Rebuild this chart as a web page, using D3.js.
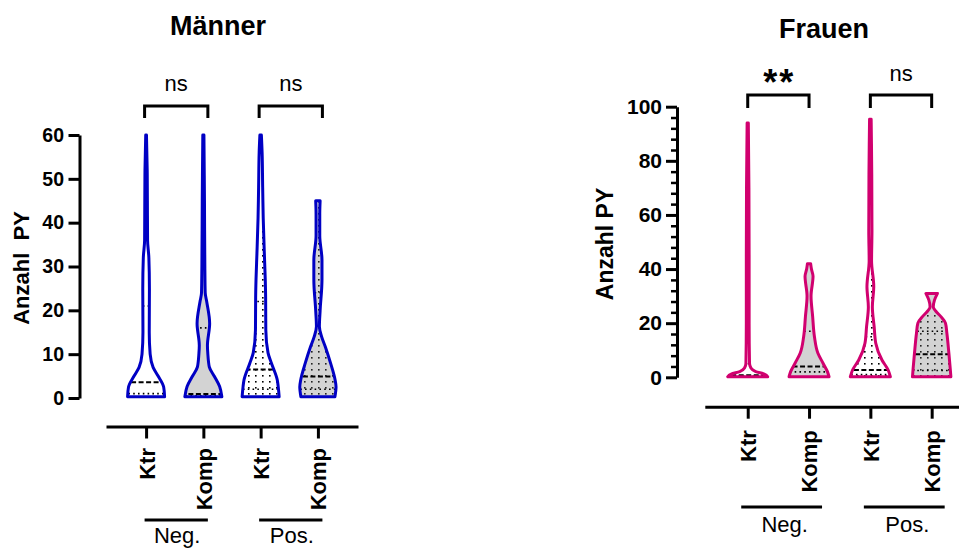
<!DOCTYPE html>
<html>
<head>
<meta charset="utf-8">
<script src="https://cdn.jsdelivr.net/npm/d3@7"></script>
<style>
  body { margin: 0; background: #fff; }
  svg { display: block; font-family: "Liberation Sans", Arial, sans-serif; }
</style>
</head>
<body>
<svg width="959" height="549"></svg>
<script>
// categories and groups
const categories = ["Ktr", "Komp", "Ktr", "Komp"];
const groups = ["Neg.", "Pos."];

// violin outlines, [value, relative half width], bottom to top
const menKtrNeg = [[0.3, 1.0], [2.5, 0.95], [5, 0.65], [7, 0.38], [10, 0.22], [15, 0.17], [25, 0.18], [32, 0.15], [36, 0.08], [45, 0.07], [52, 0.06], [60, 0.02]];
const menKompNeg = [[0.3, 1.0], [2.6, 0.88], [4.9, 0.6], [7.1, 0.32], [10.2, 0.24], [12, 0.22], [17, 0.34], [22, 0.18], [24, 0.1], [30, 0.08], [45, 0.06], [60, 0.03]];
const menKtrPos = [[0.3, 1.0], [2.6, 0.95], [4.1, 0.9], [8, 0.58], [10.3, 0.4], [15.5, 0.28], [23, 0.27], [27, 0.25], [33, 0.2], [41, 0.14], [48, 0.11], [56, 0.08], [60, 0.04]];
const menKompPos = [[0.3, 0.92], [2.5, 0.98], [4.1, 0.93], [8, 0.68], [11.7, 0.4], [14, 0.2], [16.3, 0.08], [20, 0.12], [27, 0.22], [31.5, 0.22], [37, 0.1], [42, 0.1], [45, 0.12]];

const womenKtrNeg = [[0.2, 1.0], [1.2, 0.83], [2.1, 0.4], [3.4, 0.16], [5.2, 0.09], [20, 0.07], [45, 0.07], [70, 0.06], [94, 0.03]];
const womenKompNeg = [[0.2, 1.0], [2.1, 0.92], [5.2, 0.7], [9, 0.44], [15, 0.27], [22.5, 0.18], [30, 0.1], [37.3, 0.2], [40, 0.12], [42, 0.08]];
const womenKtrPos = [[0.2, 1.0], [2.7, 0.89], [6.4, 0.58], [12.6, 0.27], [18.7, 0.19], [26, 0.1], [33.5, 0.17], [43, 0.06], [54, 0.08], [75, 0.07], [95.4, 0.04]];
const womenKompPos = [[0.2, 0.96], [3, 0.93], [8.9, 0.86], [16.3, 0.76], [20, 0.69], [22.5, 0.45], [24.5, 0.2], [26, 0.08], [28.5, 0.14], [31, 0.29]];

// medians and quartiles
const menMedian = [3.6, 0.9, 6.5, 4.9];
const menQ1 = [1, 0.5, 2, 2];
const menQ3 = [21, 16, 22, 24];
const womenMedian = [0.8, 4, 2.7, 8.5];
const womenQ1 = [0.4, 2, 1, 2.5];
const womenQ3 = [5, 17, 15, 17];

// significance
const menSig = ["ns", "ns"];
const womenSig = ["**", "ns"];

// axis ticks
const menTicks = [0, 10, 20, 30, 40, 50, 60];
const womenTicks = [0, 20, 40, 60, 80, 100];
const womenMinor = [4, 8, 12, 16, 24, 28, 32, 36, 44, 48, 52, 56, 64, 68, 72, 76, 84, 88, 92, 96];

const svg = d3.select("svg");
const defs = svg.append("defs");

// dotted fills
const dots = defs.append("pattern")
  .attr("id", "dots").attr("patternUnits", "userSpaceOnUse")
  .attr("width", 7).attr("height", 6);
dots.append("rect").attr("width", 7).attr("height", 6).attr("fill", "#fff");
dots.append("rect").attr("x", 3).attr("y", 3).attr("width", 1.6).attr("height", 1.6).attr("fill", "#000");

const dotsGray = defs.append("pattern")
  .attr("id", "dotsGray").attr("patternUnits", "userSpaceOnUse")
  .attr("width", 7).attr("height", 6);
dotsGray.append("rect").attr("width", 7).attr("height", 6).attr("fill", "#d3d3d3");
dotsGray.append("rect").attr("x", 3).attr("y", 3).attr("width", 1.6).attr("height", 1.6).attr("fill", "#222");

const fills = ["#fff", "#d3d3d3", "url(#dots)", "url(#dotsGray)"];

const drawPanel = (p) => {
  const g = svg.append("g");

  const y = d3.scaleLinear().domain(p.yDomain).range(p.yRange);
  const x = d3.scalePoint().domain(d3.range(categories.length)).range(p.xRange).padding(0.7);
  const w = d3.scaleLinear().domain([0, 1]).range([0, p.halfWidth]);

  // title
  g.append("text")
    .attr("x", p.titleX).attr("y", p.titleY)
    .attr("text-anchor", "middle")
    .attr("font-size", 27).attr("font-weight", "bold")
    .text(p.title);

  // y axis
  const yAxis = g.append("g")
    .attr("transform", `translate(${p.axisX},0)`)
    .call(d3.axisLeft(y).tickValues(p.ticks).tickSize(11).tickSizeOuter(0).tickPadding(p.tickPad));
  yAxis.select(".domain").attr("stroke-width", 3);
  yAxis.selectAll(".tick line").attr("stroke-width", 3);
  yAxis.selectAll(".tick text")
    .attr("font-size", p.tickFont).attr("font-weight", "bold")
    .attr("font-family", "Liberation Sans, Arial, sans-serif").attr("fill", "#000");

  if (p.minor) {
    const minorAxis = g.append("g")
      .attr("transform", `translate(${p.axisX},0)`)
      .call(d3.axisLeft(y).tickValues(p.minor).tickSize(6).tickFormat(""));
    minorAxis.select(".domain").remove();
    minorAxis.selectAll(".tick line").attr("stroke-width", 2.5);
  }

  // y label
  g.append("text")
    .attr("transform", `translate(${p.yLabelX},${p.yLabelY}) rotate(-90)`)
    .attr("text-anchor", "middle")
    .attr("font-size", p.yLabelFont).attr("font-weight", "bold")
    .style("white-space", "pre")
    .text(p.yLabel);

  // x axis
  const xAxis = g.append("g")
    .attr("transform", `translate(0,${p.xAxisY})`)
    .call(d3.axisBottom(x).tickSize(12).tickSizeOuter(0).tickFormat(i => categories[i]));
  xAxis.select(".domain").attr("stroke-width", 3);
  xAxis.selectAll(".tick line").attr("stroke-width", 3);
  xAxis.selectAll(".tick text")
    .attr("transform", "rotate(-90)")
    .attr("x", -p.catOffset).attr("y", 0).attr("dy", "0.36em")
    .attr("text-anchor", "end")
    .attr("font-size", p.catFont).attr("font-weight", "bold")
    .attr("font-family", "Liberation Sans, Arial, sans-serif").attr("fill", "#000");

  // violins
  p.violins.forEach((shape, i) => {
    const cx = x(i);
    const area = d3.area()
      .curve(d3.curveMonotoneY)
      .y(d => y(d[0]))
      .x0(d => cx - w(d[1]))
      .x1(d => cx + w(d[1]));
    const dPath = area(shape);
    const clipId = `${p.id}-clip-${i}`;
    defs.append("clipPath").attr("id", clipId).append("path").attr("d", dPath);

    g.append("path").attr("d", dPath).attr("fill", fills[i]);

    const lines = g.append("g").attr("clip-path", `url(#${clipId})`);
    [p.q1[i], p.q3[i]].forEach(v => {
      lines.append("line")
        .attr("x1", cx - p.halfWidth - 4).attr("x2", cx + p.halfWidth + 4)
        .attr("y1", y(v)).attr("y2", y(v))
        .attr("stroke", "#000").attr("stroke-width", 1.6)
        .attr("stroke-dasharray", "1.6,3.2");
    });
    lines.append("line")
      .attr("x1", cx - p.halfWidth - 4).attr("x2", cx + p.halfWidth + 4)
      .attr("y1", y(p.median[i])).attr("y2", y(p.median[i]))
      .attr("stroke", "#000").attr("stroke-width", 2)
      .attr("stroke-dasharray", "5,2.5");

    g.append("path").attr("d", dPath)
      .attr("fill", "none").attr("stroke", p.color)
      .attr("stroke-width", 3).attr("stroke-linejoin", "round");
  });

  // significance brackets
  p.sig.forEach((s, j) => {
    const a = x(2 * j) + p.bracketOff[0];
    const b = x(2 * j + 1) + p.bracketOff[1];
    g.append("path")
      .attr("d", `M${a},${p.bracketTop + p.bracketLeg}V${p.bracketTop}H${b}V${p.bracketTop + p.bracketLeg}`)
      .attr("fill", "none").attr("stroke", "#000").attr("stroke-width", 3);
    const star = s.indexOf("*") >= 0;
    g.append("text")
      .attr("x", (a + b) / 2 + (star ? 1 : 0))
      .attr("y", star ? p.starY : p.sigY)
      .attr("text-anchor", "middle")
      .attr("font-size", star ? 36 : 22)
      .attr("font-weight", star ? "bold" : "normal")
      .attr("letter-spacing", star ? 2 : 0)
      .text(s);
  });

  // group lines and labels
  groups.forEach((name, j) => {
    const a = x(2 * j) + p.groupOff[0];
    const b = x(2 * j + 1) + p.groupOff[1];
    g.append("line")
      .attr("x1", a).attr("x2", b)
      .attr("y1", p.groupLineY).attr("y2", p.groupLineY)
      .attr("stroke", "#000").attr("stroke-width", 3);
    g.append("text")
      .attr("x", (a + b) / 2 + p.groupLabelShift).attr("y", p.groupLabelY)
      .attr("text-anchor", "middle")
      .attr("font-size", 22)
      .text(name);
  });
};

drawPanel({
  id: "men", title: "Männer", titleX: 218, titleY: 35,
  yDomain: [0, 60], yRange: [398, 135], ticks: menTicks, tickFont: 19.5, tickPad: 4.5,
  xRange: [106, 358], axisX: 79.5, xAxisY: 426.5, catOffset: 21.5, catFont: 22,
  yLabel: "Anzahl  PY", yLabelX: 29, yLabelY: 268, yLabelFont: 22,
  halfWidth: 18.5, color: "#0000c4",
  violins: [menKtrNeg, menKompNeg, menKtrPos, menKompPos],
  median: menMedian, q1: menQ1, q3: menQ3,
  sig: menSig, bracketTop: 106, bracketLeg: 12, bracketOff: [-1.5, 4.5], sigY: 90.5, starY: 95,
  groupLineY: 520, groupOff: [-1.5, 4.5], groupLabelY: 543, groupLabelShift: 1
});

drawPanel({
  id: "women", title: "Frauen", titleX: 824, titleY: 38,
  yDomain: [0, 100], yRange: [377.3, 106.7], ticks: womenTicks, minor: womenMinor, tickFont: 21, tickPad: 4,
  xRange: [704.8, 974.6], axisX: 677, xAxisY: 406.7, catOffset: 23.5, catFont: 22,
  yLabel: "Anzahl PY", yLabelX: 613, yLabelY: 244, yLabelFont: 23,
  halfWidth: 20, color: "#d1006f",
  violins: [womenKtrNeg, womenKompNeg, womenKtrPos, womenKompPos],
  median: womenMedian, q1: womenQ1, q3: womenQ3,
  sig: womenSig, bracketTop: 95, bracketLeg: 13, bracketOff: [0, 0], sigY: 80.7, starY: 95,
  groupLineY: 507, groupOff: [-6.5, 13], groupLabelY: 531.5, groupLabelShift: 3
});
</script>
</body>
</html>
